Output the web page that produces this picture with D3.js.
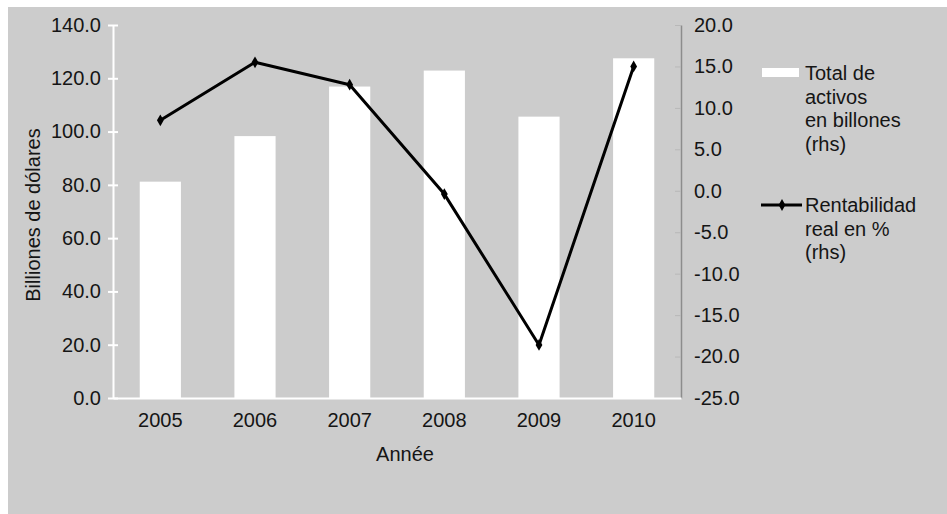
<!DOCTYPE html>
<html>
<head>
<meta charset="utf-8">
<script src="https://cdn.jsdelivr.net/npm/d3@7"></script>
<style>
  html, body { margin: 0; padding: 0; background: #ffffff; }
  svg text { font-family: "Liberation Sans", Arial, sans-serif; fill: #151515; }
</style>
</head>
<body>
<svg id="chart" width="947" height="514"></svg>
<script>
// Years on the category axis
const years = ["2005", "2006", "2007", "2008", "2009", "2010"];
// Total assets, billions of dollars (left axis)
const totalActivos = [81.2, 98.3, 116.9, 122.9, 105.6, 127.5];
// Real return, % (right axis)
const rentabilidad = [8.5, 15.5, 12.8, -0.4, -18.6, 15.0];
// Tick values for both axes
const leftTicks = [0, 20, 40, 60, 80, 100, 120, 140];
const rightTicks = [-25, -20, -15, -10, -5, 0, 5, 10, 15, 20];
// Legend entries
const legendBars = ["Total de", "activos", "en billones", "(rhs)"];
const legendLine = ["Rentabilidad", "real en %", "(rhs)"];

const svg = d3.select("#chart");
const W = 947, H = 514;
const plot = { left: 113, right: 681, top: 25, bottom: 398 };
const FS = 20;
const FONT = "Liberation Sans, Arial, sans-serif";
// Plain hyphen for negative numbers
const fmt = d3.formatLocale({ decimal: ".", thousands: ",", grouping: [3], currency: ["", ""], minus: "-" }).format(".1f");

// Grey panel
svg.append("rect").attr("x", 8).attr("y", 7).attr("width", W - 8).attr("height", H - 7)
  .attr("fill", "#cccccc");

const x = d3.scaleBand().domain(years).range([plot.left, plot.right])
  .paddingInner(0.565).paddingOuter(0.2825);
const yL = d3.scaleLinear().domain([0, 140]).range([plot.bottom, plot.top]);
const yR = d3.scaleLinear().domain([-25, 20]).range([plot.bottom, plot.top]);

// Bars
svg.append("g").selectAll("rect").data(years).join("rect")
  .attr("x", d => x(d))
  .attr("width", x.bandwidth())
  .attr("y", (d, i) => yL(totalActivos[i]))
  .attr("height", (d, i) => yL(0) - yL(totalActivos[i]))
  .attr("fill", "#ffffff");

// Left axis
const axL = svg.append("g").attr("transform", `translate(${plot.left},0)`)
  .call(d3.axisLeft(yL).tickValues(leftTicks).tickFormat(fmt)
    .tickSizeInner(5).tickSizeOuter(0).tickPadding(7));
axL.select(".domain").attr("stroke", "#ffffff").attr("stroke-width", 2);
axL.selectAll(".tick line").attr("stroke", "#ffffff").attr("stroke-width", 2)
  .attr("x2", 5).attr("x1", -5);
axL.selectAll(".tick text").attr("font-size", FS).attr("fill", "#151515")
  .attr("font-family", FONT);

// Right axis
const axR = svg.append("g").attr("transform", `translate(${plot.right},0)`)
  .call(d3.axisRight(yR).tickValues(rightTicks).tickFormat(fmt)
    .tickSizeInner(0).tickSizeOuter(0).tickPadding(13));
axR.select(".domain").attr("stroke", "#8c8c8c").attr("stroke-width", 1.5);
axR.selectAll(".tick line").attr("stroke", "#b8b8b8").attr("stroke-width", 1)
  .attr("x1", -6).attr("x2", 0);
axR.selectAll(".tick text").attr("font-size", FS).attr("fill", "#151515")
  .attr("font-family", FONT);

// Bottom axis
const axB = svg.append("g").attr("transform", `translate(0,${plot.bottom})`)
  .call(d3.axisBottom(x).tickSize(0).tickPadding(15));
axB.select(".domain").attr("stroke", "#ffffff").attr("stroke-width", 2);
axB.selectAll(".tick text").attr("font-size", FS).attr("fill", "#151515")
  .attr("font-family", FONT);

// Line series
const lineGen = d3.line()
  .x((d, i) => x(years[i]) + x.bandwidth() / 2)
  .y(d => yR(d));
svg.append("path").datum(rentabilidad)
  .attr("d", lineGen).attr("fill", "none")
  .attr("stroke", "#000000").attr("stroke-width", 3).attr("stroke-linejoin", "round");

const diamond = d3.symbol().type(d3.symbolDiamond).size(40);
svg.append("g").selectAll("path").data(rentabilidad).join("path")
  .attr("transform", (d, i) => `translate(${x(years[i]) + x.bandwidth() / 2},${yR(d)})`)
  .attr("d", diamond).attr("fill", "#000000");

// Axis titles
svg.append("text")
  .attr("transform", "translate(40,215) rotate(-90)")
  .attr("text-anchor", "middle").attr("font-size", FS)
  .text("Billiones de dólares");
svg.append("text")
  .attr("x", 405).attr("y", 461).attr("text-anchor", "middle").attr("font-size", FS)
  .text("Année");

// Legend
const lg = svg.append("g");
lg.append("rect").attr("x", 762).attr("y", 68).attr("width", 37).attr("height", 9)
  .attr("fill", "#ffffff");
lg.selectAll("text.lb").data(legendBars).join("text").attr("class", "lb")
  .attr("x", 805).attr("y", (d, i) => 80 + i * 23.5)
  .attr("font-size", FS).text(d => d);

lg.append("line").attr("x1", 761).attr("x2", 802).attr("y1", 205).attr("y2", 205)
  .attr("stroke", "#000").attr("stroke-width", 3);
lg.append("path").attr("transform", "translate(782,205)").attr("d", diamond)
  .attr("fill", "#000");
lg.selectAll("text.ll").data(legendLine).join("text").attr("class", "ll")
  .attr("x", 805).attr("y", (d, i) => 212 + i * 23.5)
  .attr("font-size", FS).text(d => d);
</script>
</body>
</html>
